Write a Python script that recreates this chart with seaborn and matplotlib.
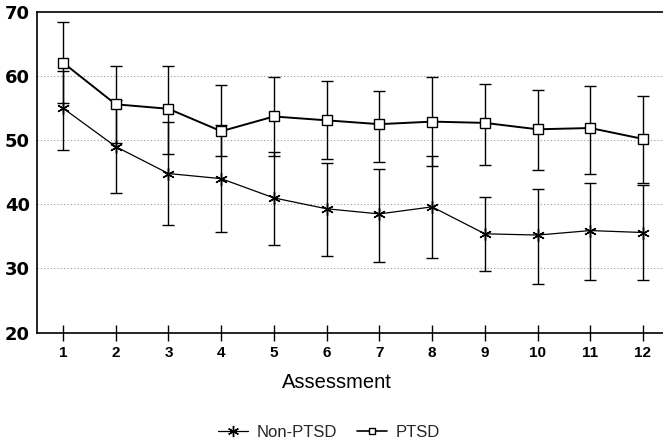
import numpy as np
import pandas as pd
import matplotlib
matplotlib.use("Agg")
import matplotlib.pyplot as plt
import seaborn as sns
from matplotlib.lines import Line2D
from matplotlib import font_manager

assessment = [1, 2, 3, 4, 5, 6, 7, 8, 9, 10, 11, 12]
ptsd_mean = [62.1, 55.6, 54.9, 51.4, 53.7, 53.1, 52.5, 52.9, 52.7, 51.7, 51.9, 50.2]
ptsd_err_up = [6.3, 6.0, 6.7, 7.2, 6.2, 6.1, 5.2, 7.0, 6.1, 6.2, 6.5, 6.7]
ptsd_err_low = [6.3, 6.0, 7.1, 3.8, 6.2, 6.1, 5.9, 7.0, 6.5, 6.3, 7.1, 6.9]
non_mean = [55.0, 49.0, 44.8, 44.0, 41.0, 39.3, 38.5, 39.6, 35.4, 35.2, 35.9, 35.6]
non_err_up = [5.8, 7.3, 8.1, 8.3, 7.2, 7.2, 7.0, 8.0, 5.8, 7.2, 7.5, 7.4]
non_err_low = [6.5, 7.3, 8.1, 8.3, 7.4, 7.3, 7.5, 7.9, 5.8, 7.6, 7.7, 7.4]
y_ticks = [20, 30, 40, 50, 60, 70]
groups = ["Non-PTSD", "PTSD"]

sns.set_theme(style="white")
avail = {f.name for f in font_manager.fontManager.ttflist}
narrow = "Liberation Sans Narrow" if "Liberation Sans Narrow" in avail else "Liberation Sans"
plt.rcParams["font.family"] = ["DejaVu Sans"]

df = pd.DataFrame({
    "Assessment": assessment * 2,
    "Score": non_mean + ptsd_mean,
    "Group": [groups[0]] * 12 + [groups[1]] * 12,
})

fig = plt.figure(figsize=(6.63, 4.44), dpi=100)
ax = fig.add_axes([37 / 663, 1 - 332.5 / 444, 1 - 37 / 663, 320.5 / 444])

star = (6, 2, 0)
ax.errorbar(assessment, non_mean, yerr=[non_err_low, non_err_up], fmt="none",
            ecolor="black", elinewidth=1.0, capsize=4, capthick=1.0, zorder=2)
ax.errorbar(assessment, ptsd_mean, yerr=[ptsd_err_low, ptsd_err_up], fmt="none",
            ecolor="black", elinewidth=1.0, capsize=4, capthick=1.0, zorder=2)

sns.lineplot(data=df[df.Group == "Non-PTSD"], x="Assessment", y="Score", ax=ax,
             color="black", linewidth=0.9, marker=star, markersize=9,
             markeredgewidth=1.0, markeredgecolor="black", zorder=3, legend=False)
sns.lineplot(data=df[df.Group == "PTSD"], x="Assessment", y="Score", ax=ax,
             color="black", linewidth=1.4, marker="s", markersize=6.5,
             markerfacecolor="white", markeredgecolor="black",
             markeredgewidth=1.0, zorder=3, legend=False)

ax.set_xlim(0.507, 12.38)
ax.set_ylim(20, 70)
ax.set_yticks(y_ticks)
ax.set_yticklabels([str(v) for v in y_ticks], fontsize=13, fontweight="bold",
                   family=["DejaVu Sans"])
ax.set_xticks(assessment)
ax.set_xticklabels([str(v) for v in assessment], fontsize=11, fontweight="bold",
                   family=[narrow, "DejaVu Sans"])
ax.tick_params(axis="y", length=0, pad=5, colors="black")
ax.tick_params(axis="x", direction="inout", length=11, width=1.0, pad=4,
               colors="black", bottom=True)

for y in [30, 40, 50, 60]:
    ax.axhline(y, color="#9a9a9a", linestyle=(0, (1, 2)), linewidth=0.8, zorder=1)

for s in ["left", "bottom", "top"]:
    ax.spines[s].set_color("black")
    ax.spines[s].set_linewidth(1.2)
ax.spines["right"].set_visible(False)

ax.set_ylabel("")
ax.set_xlabel("Assessment", fontsize=14.5, family=[narrow, "DejaVu Sans"], color="black")
ax.xaxis.set_label_coords((337 - 37) / (663 - 37), -40 / 320.5)

handles = [
    Line2D([0], [0], color="black", linewidth=0.9, marker=star, markersize=8,
           markeredgewidth=1.0),
    Line2D([0], [0], color="black", linewidth=1.2, marker="s", markersize=5,
           markerfacecolor="white", markeredgewidth=1.0),
]
fig.legend(handles, groups, loc="center", bbox_to_anchor=(329 / 663, 1 - 432 / 444),
           ncol=2, frameon=False, handlelength=1.8, handletextpad=0.5,
           columnspacing=1.2, prop={"family": [narrow, "DejaVu Sans"], "size": 12})

fig.savefig("out.png", dpi=100)
